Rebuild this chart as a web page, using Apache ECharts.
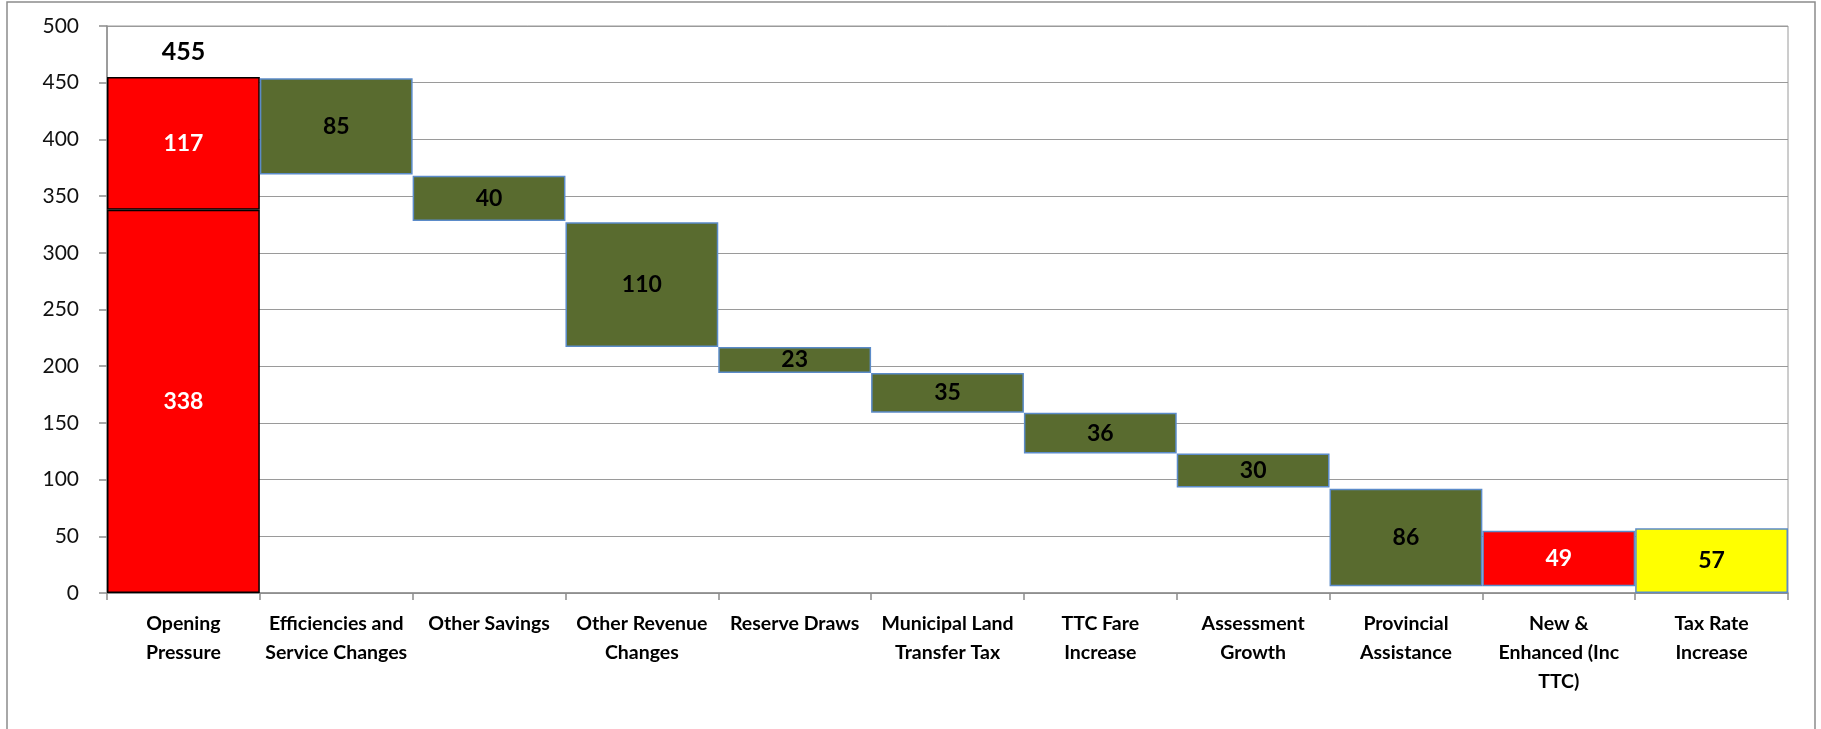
<!DOCTYPE html>
<html>
<head>
<meta charset="utf-8">
<script src="https://cdn.jsdelivr.net/npm/echarts@6/dist/echarts.min.js"></script>
<style>
  html, body { margin: 0; padding: 0; background: #ffffff; }
  #chart { width: 1821px; height: 729px; }
</style>
</head>
<body>
<div id="chart"></div>
<script>
// Budget pressure bridge: opening pressure, closing steps, new items and tax rate increase
const categories = [
  'Opening\nPressure',
  'Efficiencies and\nService Changes',
  'Other Savings',
  'Other Revenue\nChanges',
  'Reserve Draws',
  'Municipal Land\nTransfer Tax',
  'TTC Fare\nIncrease',
  'Assessment\nGrowth',
  'Provincial\nAssistance',
  'New &\nEnhanced (Inc\nTTC)',
  'Tax Rate\nIncrease'
];

// Opening pressure, drawn as two stacked parts
const openingLower = 338;
const openingUpper = 117;

// Floating steps: hidden starting level and visible size of each step
const stepBase  = [null, 369, 328, 217, 194, 159, 123, 93, 6, 6, 0];
const stepValue = [null, 85, 40, 110, 23, 35, 36, 30, 86, 49, 57];
const stepKind  = [null, 'saving', 'saving', 'saving', 'saving', 'saving', 'saving', 'saving', 'saving', 'new', 'tax'];

const yMin = 0, yMax = 500, yStep = 50;

const FONT = 'Lato, "Open Sans", "DejaVu Sans", sans-serif';
const kindStyle = {
  saving: { fill: '#596b2f', text: '#000000' },
  new:    { fill: '#ff0000', text: '#ffffff' },
  tax:    { fill: '#ffff00', text: '#000000' }
};
const STEP_BORDER = '#5b8bc9';

const onlyFirst = v => categories.map((_, i) => (i === 0 ? v : '-'));

const chart = echarts.init(document.getElementById('chart'), null, { renderer: 'canvas' });

const barLabel = (color) => ({
  show: true,
  position: 'inside',
  color: color,
  fontFamily: FONT,
  fontWeight: 'bold',
  fontSize: 23
});

const openingTotal = openingLower + openingUpper;

chart.setOption({
  animation: false,
  backgroundColor: '#ffffff',
  graphic: [{
    type: 'rect',
    silent: true,
    shape: { x: 7, y: 2, width: 1808, height: 760 },
    style: { fill: 'none', stroke: '#8c8c8c', lineWidth: 1.5 }
  }],
  grid: {
    left: 107,
    right: 33,
    top: 26,
    bottom: 136,
    show: true,
    borderColor: '#9a9a9a',
    borderWidth: 1,
    outerBoundsMode: 'none'
  },
  xAxis: {
    type: 'category',
    data: categories,
    boundaryGap: true,
    axisLine: { show: true, lineStyle: { color: '#8c8c8c', width: 1.5 } },
    axisTick: { show: true, alignWithLabel: false, length: 7, lineStyle: { color: '#8c8c8c', width: 1.5 } },
    axisLabel: {
      interval: 0,
      margin: 16,
      color: '#000000',
      fontFamily: FONT,
      fontWeight: 'bold',
      fontSize: 19.5,
      lineHeight: 29,
      align: 'center'
    },
    splitLine: { show: false }
  },
  yAxis: {
    type: 'value',
    min: yMin,
    max: yMax,
    interval: yStep,
    axisLine: { show: true, lineStyle: { color: '#8c8c8c', width: 1.5 } },
    axisTick: { show: true, inside: false, length: 8, lineStyle: { color: '#8c8c8c', width: 1.5 } },
    axisLabel: {
      margin: 28,
      color: '#111111',
      fontFamily: FONT,
      fontSize: 21
    },
    splitLine: { show: true, lineStyle: { color: '#9a9a9a', width: 1.2 } }
  },
  series: [
    {
      name: 'hidden base',
      type: 'bar',
      stack: 'bridge',
      silent: true,
      barCategoryGap: 0,
      itemStyle: { color: 'transparent', borderWidth: 0 },
      data: stepBase.map(v => (v == null || v === 0 ? '-' : v))
    },
    {
      name: 'Opening lower',
      type: 'bar',
      stack: 'bridge',
      barCategoryGap: 0,
      itemStyle: { color: '#ff0000', borderColor: '#000000', borderWidth: 1.5 },
      label: barLabel('#ffffff'),
      data: onlyFirst(openingLower)
    },
    {
      name: 'Opening upper',
      type: 'bar',
      stack: 'bridge',
      barCategoryGap: 0,
      itemStyle: { color: '#ff0000', borderColor: '#000000', borderWidth: 1.5 },
      label: barLabel('#ffffff'),
      data: onlyFirst(openingUpper),
      markPoint: {
        silent: true,
        symbol: 'rect',
        symbolSize: 1,
        itemStyle: { color: 'transparent' },
        label: {
          show: true,
          position: 'top',
          distance: 12,
          color: '#000000',
          fontFamily: FONT,
          fontWeight: 'bold',
          fontSize: 25,
          formatter: () => String(openingTotal)
        },
        data: [{ coord: [0, openingTotal] }]
      }
    },
    {
      name: 'Steps',
      type: 'bar',
      stack: 'bridge',
      barCategoryGap: 0,
      label: barLabel('#000000'),
      data: stepValue.map((v, i) => {
        if (v == null) return '-';
        const s = kindStyle[stepKind[i]];
        return {
          value: v,
          itemStyle: { color: s.fill, borderColor: STEP_BORDER, borderWidth: 1.5 },
          label: { color: s.text }
        };
      })
    }
  ]
});
</script>
</body>
</html>
